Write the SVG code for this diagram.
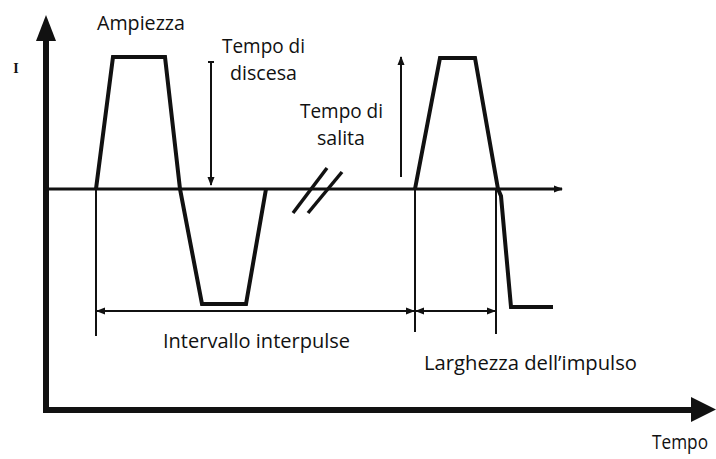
<svg xmlns="http://www.w3.org/2000/svg" width="716" height="459" viewBox="0 0 716 459">
<defs>
<style>
.lbl{font-family:"Open Sans","Liberation Sans",sans-serif;font-size:20px;fill:#111}
.ax{stroke:#111;stroke-width:6;fill:none}
.sig{stroke:#111;stroke-width:4;fill:none;stroke-linejoin:miter}
.base{stroke:#111;stroke-width:3;fill:none}
.dim{stroke:#111;stroke-width:2;fill:none}
</style>
<marker id="sm" markerUnits="userSpaceOnUse" markerWidth="10" markerHeight="10" refX="8" refY="5" orient="auto-start-reverse" viewBox="0 0 10 10">
<path d="M0,1.5 L9,5 L0,8.5 Z" fill="#111"/>
</marker>
</defs>
<rect width="716" height="459" fill="#fff"/>
<g id="axes">
<polyline class="ax" points="46,38 46,410 692,410"/>
<path d="M46,15 L56,41 L36,41 Z" fill="#111"/>
<path d="M716,409.5 L691,397 L691,422 Z" fill="#111"/>
</g>
<g id="baseline">
<line class="base" x1="44" y1="189" x2="562" y2="189" marker-end="url(#sm)"/>
<line x1="293" y1="213" x2="327" y2="168" stroke="#111" stroke-width="3.5"/>
<line x1="308" y1="213" x2="342" y2="172" stroke="#111" stroke-width="3.5"/>
</g>
<g id="signal">
<polyline class="sig" points="96,189 113,57 165,57 180,189 202,304 246,304 266,189"/>
<polyline class="sig" points="415,189 440,58 475,58 498,189 501,196 511,307 553,307"/>
</g>
<g id="connectors">
<line class="dim" x1="96" y1="189" x2="96" y2="336"/>
<line class="dim" x1="415" y1="189" x2="415" y2="332"/>
<line class="dim" x1="496" y1="189" x2="496" y2="334"/>
<line class="dim" x1="97" y1="311" x2="414" y2="311" marker-start="url(#sm)" marker-end="url(#sm)"/>
<line class="dim" x1="416" y1="311" x2="495" y2="311" marker-start="url(#sm)" marker-end="url(#sm)"/>
<line class="dim" x1="211" y1="62" x2="211" y2="185" marker-end="url(#sm)"/>
<line class="dim" x1="208" y1="62" x2="214" y2="62"/>
<line class="dim" x1="401" y1="177" x2="401" y2="57" marker-end="url(#sm)"/>
</g>
<g id="labels">
<text x="16" y="73" font-family="Liberation Serif,serif" font-weight="bold" font-size="14" text-anchor="middle" fill="#111">I</text>
<text class="lbl" x="97" y="30" textLength="88" lengthAdjust="spacingAndGlyphs">Ampiezza</text>
<text class="lbl" x="222" y="53" textLength="83" lengthAdjust="spacingAndGlyphs">Tempo di</text>
<text class="lbl" x="230" y="80" textLength="67" lengthAdjust="spacingAndGlyphs">discesa</text>
<text class="lbl" x="300" y="118" textLength="83" lengthAdjust="spacingAndGlyphs">Tempo di</text>
<text class="lbl" x="317" y="145" textLength="48" lengthAdjust="spacingAndGlyphs">salita</text>
<text class="lbl" x="163" y="348" textLength="187" lengthAdjust="spacingAndGlyphs">Intervallo interpulse</text>
<text class="lbl" x="424" y="370" textLength="213" lengthAdjust="spacingAndGlyphs">Larghezza dell’impulso</text>
<text class="lbl" x="652" y="449" font-size="19" textLength="56" lengthAdjust="spacingAndGlyphs">Tempo</text>
</g>
</svg>
